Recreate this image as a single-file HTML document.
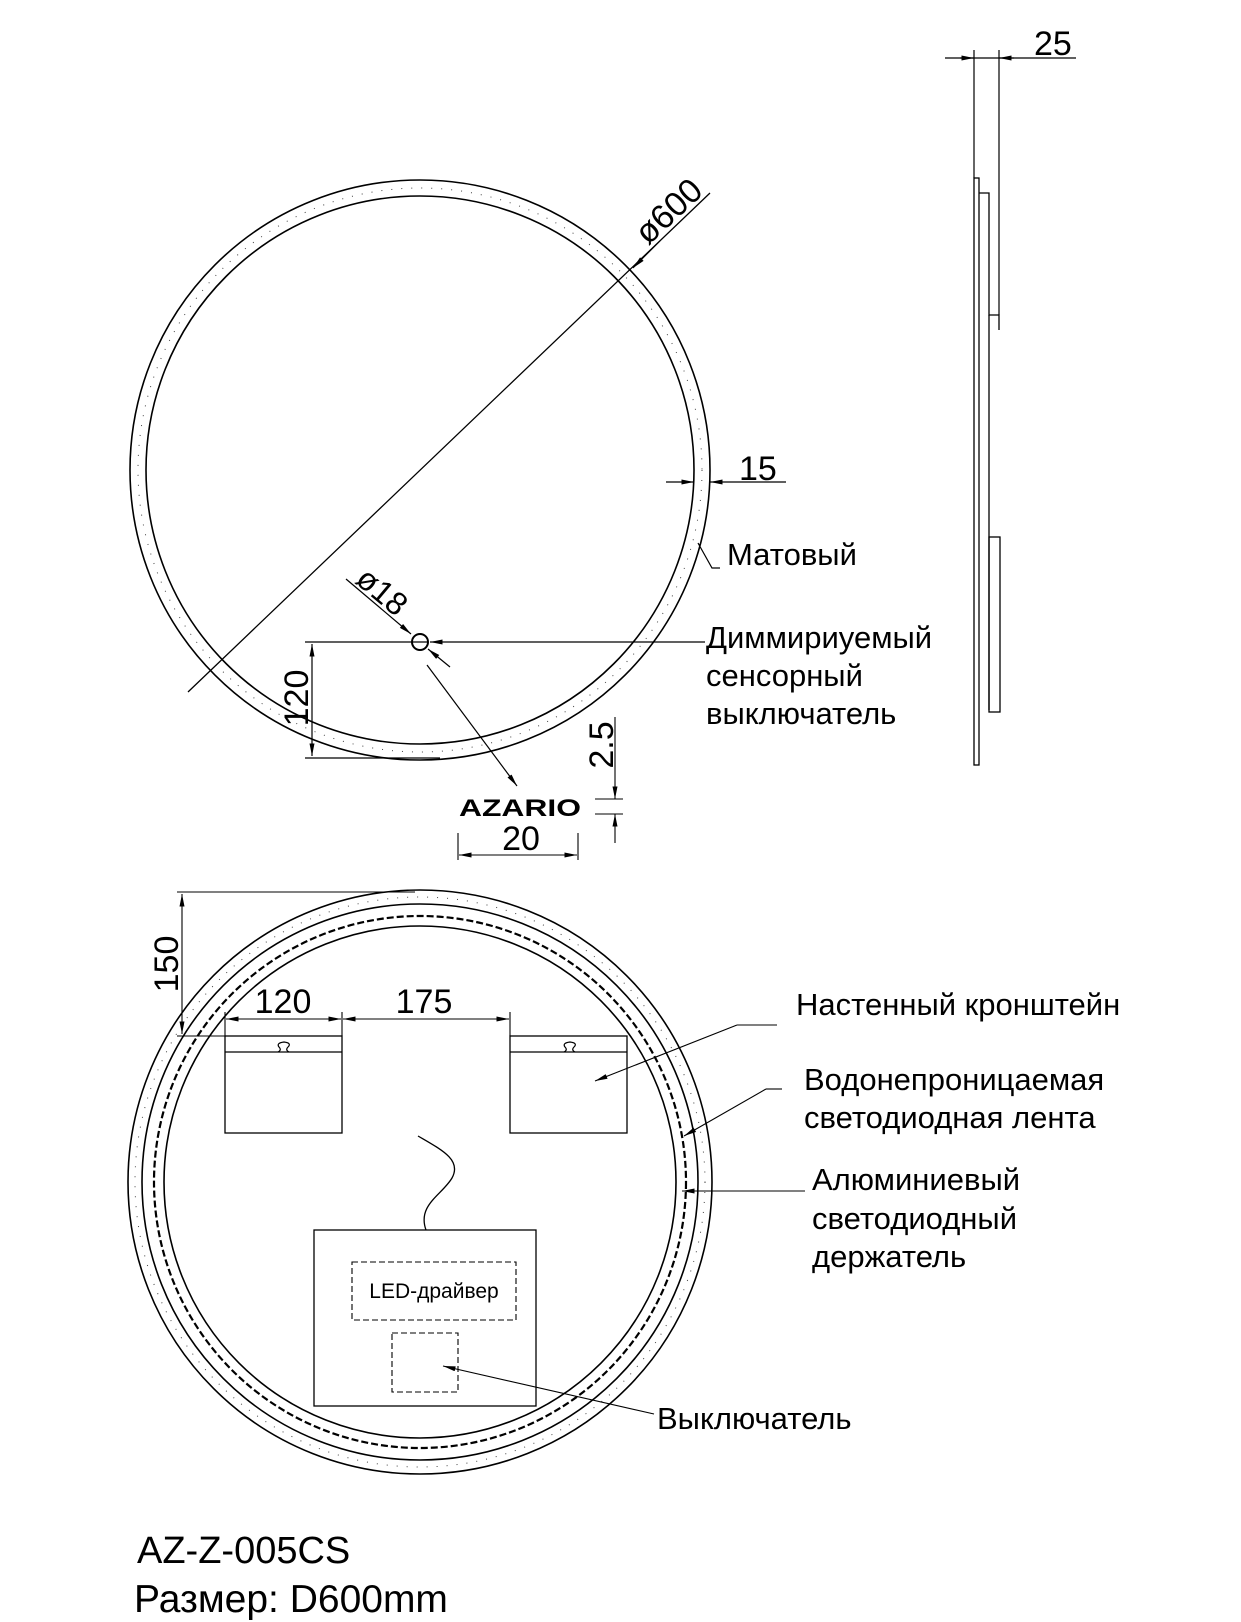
<!DOCTYPE html>
<html><head><meta charset="utf-8"><style>
html,body{margin:0;padding:0;background:#fff;}
svg{display:block;}
text{font-family:"Liberation Sans",sans-serif;fill:#000;}
</style></head><body>
<svg width="1241" height="1622" viewBox="0 0 1241 1622" xmlns="http://www.w3.org/2000/svg">
<defs>
<marker id="a" viewBox="0 0 10 4" refX="10" refY="2" markerWidth="14" markerHeight="5" orient="auto-start-reverse" markerUnits="userSpaceOnUse"><path d="M0,0 L10,2 L0,4z" fill="#000"/></marker>
</defs>
<g fill="none" stroke="#000" stroke-width="1.6">
<circle cx="420" cy="470" r="290"/>
<circle cx="420" cy="470" r="274"/>
<circle cx="420" cy="470" r="282" stroke-width="1" stroke-dasharray="1 9" stroke="#444"/>
<line x1="188" y1="692" x2="710" y2="193" stroke-width="1.3"/>
<line x1="660" y1="241" x2="633" y2="268" stroke-width="1" marker-end="url(#a)"/>
<line x1="666" y1="482" x2="694" y2="482" stroke-width="1.2" marker-end="url(#a)"/>
<line x1="786" y1="482" x2="710" y2="482" stroke-width="1.2" marker-end="url(#a)"/>
<polyline points="698,543 712,568 720,568" stroke-width="1.2"/>
<circle cx="420" cy="642" r="8" stroke-width="2"/>
<line x1="346" y1="579" x2="411" y2="634" stroke-width="1.2" marker-end="url(#a)"/>
<line x1="450" y1="667" x2="428" y2="649" stroke-width="1.2" marker-end="url(#a)"/>
<line x1="705" y1="642" x2="430" y2="642" stroke-width="1.2" marker-end="url(#a)"/>
<line x1="428" y1="642" x2="305" y2="642" stroke-width="1.2"/>
<line x1="305" y1="758" x2="440" y2="758" stroke-width="1.2"/>
<line x1="312" y1="644" x2="312" y2="756" stroke-width="1.2" marker-start="url(#a)" marker-end="url(#a)"/>
<line x1="427" y1="665" x2="517" y2="786" stroke-width="1.2" marker-end="url(#a)"/>
<line x1="595" y1="799" x2="623" y2="799" stroke-width="1.1"/>
<line x1="595" y1="814" x2="623" y2="814" stroke-width="1.1"/>
<line x1="615" y1="717" x2="615" y2="799" stroke-width="1.1" marker-end="url(#a)"/>
<line x1="615" y1="843" x2="615" y2="814" stroke-width="1.1" marker-end="url(#a)"/>
<line x1="458" y1="833" x2="458" y2="860" stroke-width="1.1"/>
<line x1="578" y1="833" x2="578" y2="860" stroke-width="1.1"/>
<line x1="459" y1="855" x2="577" y2="855" stroke-width="1.1" marker-start="url(#a)" marker-end="url(#a)"/>
<!-- side view -->
<line x1="945" y1="58" x2="1076" y2="58" stroke-width="1.2"/>
<line x1="960" y1="58" x2="974" y2="58" stroke-width="1.2" marker-end="url(#a)"/>
<line x1="1014" y1="58" x2="999" y2="58" stroke-width="1.2" marker-end="url(#a)"/>
<line x1="974" y1="50" x2="974" y2="178" stroke-width="1.2"/>
<line x1="999" y1="50" x2="999" y2="315" stroke-width="1.2"/>
<rect x="974" y="178" width="5" height="587" stroke-width="1.3"/>
<polyline points="979,193 989,193 989,315 999,315 999,330" stroke-width="1.3"/>
<line x1="989" y1="315" x2="989" y2="710" stroke-width="1.3"/>
<rect x="989" y="537" width="11" height="175" stroke-width="1.3"/>
<!-- bottom circle -->
<circle cx="420" cy="1182" r="292"/>
<circle cx="420" cy="1182" r="278"/>
<circle cx="420" cy="1182" r="285" stroke-width="1" stroke-dasharray="1 9" stroke="#444"/>
<circle cx="420" cy="1182" r="266" stroke-width="2.2" stroke-dasharray="7 3"/>
<circle cx="420" cy="1182" r="256"/>
<line x1="177" y1="892" x2="415" y2="892" stroke-width="1.1"/>
<line x1="177" y1="1036" x2="225" y2="1036" stroke-width="1.1"/>
<line x1="182" y1="894" x2="182" y2="1034" stroke-width="1.1" marker-start="url(#a)" marker-end="url(#a)"/>
<rect x="225" y="1036" width="117" height="97" stroke-width="1.3"/>
<line x1="225" y1="1052" x2="342" y2="1052" stroke-width="1.2"/>
<rect x="510" y="1036" width="117" height="97" stroke-width="1.3"/>
<line x1="510" y1="1052" x2="627" y2="1052" stroke-width="1.2"/>
<path d="M278,1052 q4,-2 1,-5 q-3,-4 5,-5 q8,1 4,5 q-3,3 1,5" stroke-width="1.2"/>
<path d="M564,1052 q4,-2 1,-5 q-3,-4 5,-5 q8,1 4,5 q-3,3 1,5" stroke-width="1.2"/>
<line x1="225" y1="1012" x2="225" y2="1036" stroke-width="1.1"/>
<line x1="342" y1="1012" x2="342" y2="1036" stroke-width="1.1"/>
<line x1="510" y1="1012" x2="510" y2="1036" stroke-width="1.1"/>
<line x1="226" y1="1019" x2="341" y2="1019" stroke-width="1.1" marker-start="url(#a)" marker-end="url(#a)"/>
<line x1="343" y1="1019" x2="509" y2="1019" stroke-width="1.1" marker-start="url(#a)" marker-end="url(#a)"/>
<path d="M418,1136 C442,1150 462,1160 452,1178 C442,1195 417,1205 426,1230" stroke-width="1.3"/>
<rect x="314" y="1230" width="222" height="176" stroke-width="1.3"/>
<rect x="352" y="1262" width="164" height="58" stroke-width="1.1" stroke-dasharray="6 3"/>
<rect x="392" y="1333" width="66" height="59" stroke-width="1.1" stroke-dasharray="6 3"/>
<polyline points="777,1025 737,1025" stroke-width="1.1"/>
<line x1="737" y1="1025" x2="595" y2="1081" stroke-width="1.1" marker-end="url(#a)"/>
<polyline points="782,1089 766,1089" stroke-width="1.1"/>
<line x1="766" y1="1089" x2="684" y2="1136" stroke-width="1.1" marker-end="url(#a)"/>
<line x1="805" y1="1191" x2="682" y2="1191" stroke-width="1.1" marker-end="url(#a)"/>
<line x1="654" y1="1414" x2="443" y2="1366" stroke-width="1.1" marker-end="url(#a)"/>
</g>
<text x="0" y="0" font-size="34" transform="translate(648,246) rotate(-43)">ø600</text>
<text x="739" y="480" font-size="34">15</text>
<text x="727" y="565" font-size="31">Матовый</text>
<text x="0" y="0" font-size="32" transform="translate(354,582) rotate(40)">ø18</text>
<text x="706" y="648" font-size="31">Диммириуемый</text>
<text x="706" y="686" font-size="31">сенсорный</text>
<text x="706" y="724" font-size="31">выключатель</text>
<text x="0" y="0" font-size="34" text-anchor="middle" transform="translate(308,698) rotate(-90)">120</text>
<text x="0" y="0" font-size="34" text-anchor="middle" transform="translate(613,745) rotate(-90)">2.5</text>
<text x="459" y="816" font-size="24" font-weight="bold" textLength="122" lengthAdjust="spacingAndGlyphs">AZARIO</text>
<text x="521" y="850" font-size="34" text-anchor="middle">20</text>
<text x="1034" y="55" font-size="34">25</text>
<text x="0" y="0" font-size="34" text-anchor="middle" transform="translate(178,964) rotate(-90)">150</text>
<text x="283" y="1013" font-size="34" text-anchor="middle">120</text>
<text x="424" y="1013" font-size="34" text-anchor="middle">175</text>
<text x="434" y="1298" font-size="21" text-anchor="middle">LED-драйвер</text>
<text x="796" y="1015" font-size="31">Настенный кронштейн</text>
<text x="804" y="1090" font-size="31">Водонепроницаемая</text>
<text x="804" y="1128" font-size="31">светодиодная лента</text>
<text x="812" y="1190" font-size="31">Алюминиевый</text>
<text x="812" y="1229" font-size="31">светодиодный</text>
<text x="812" y="1267" font-size="31">держатель</text>
<text x="657" y="1429" font-size="31">Выключатель</text>
<text x="137" y="1563" font-size="38">AZ-Z-005CS</text>
<text x="134" y="1612" font-size="39">Размер: D600mm</text>
</svg>
</body></html>
